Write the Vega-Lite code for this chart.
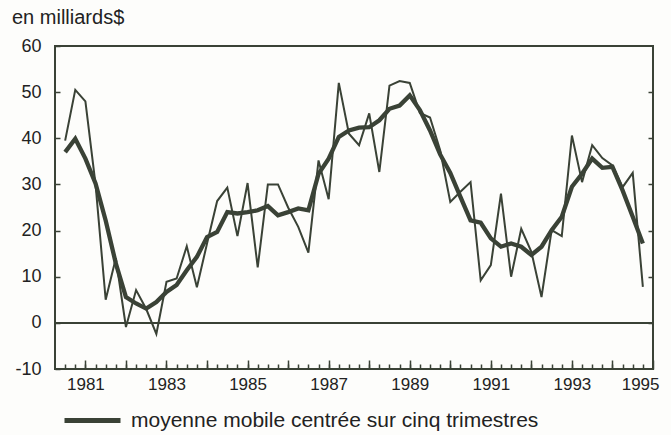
{
  "$schema": "https://vega.github.io/schema/vega-lite/v6.json",
  "width": 598,
  "height": 323,
  "autosize": "none",
  "padding": {"left": 55, "top": 46, "right": 18, "bottom": 66},
  "background": "#fdfdfb",
  "title": {"text": "en milliards$", "anchor": "start", "frame": "group", "dx": -43, "dy": 19, "offset": 12, "baseline": "alphabetic", "fontSize": 20, "fontWeight": "normal", "font": "Liberation Sans", "color": "#222222"},
  "config": {"view": {"stroke": "#3a4236", "strokeWidth": 2}, "font": "Liberation Sans"},
  "data": {"values": [
    {"date": 1980.5, "trimestriel": 39.5, "moyenne": 37.0},
    {"date": 1980.75, "trimestriel": 50.5, "moyenne": 39.9},
    {"date": 1981.0, "trimestriel": 48.0, "moyenne": 35.6},
    {"date": 1981.25, "trimestriel": 30.0, "moyenne": 30.2},
    {"date": 1981.5, "trimestriel": 5.0, "moyenne": 22.2},
    {"date": 1981.75, "trimestriel": 14.0, "moyenne": 12.9},
    {"date": 1982.0, "trimestriel": -0.9, "moyenne": 5.6},
    {"date": 1982.25, "trimestriel": 7.1, "moyenne": 4.2},
    {"date": 1982.5, "trimestriel": 3.0, "moyenne": 3.1},
    {"date": 1982.75, "trimestriel": -2.4, "moyenne": 4.5},
    {"date": 1983.0, "trimestriel": 8.9, "moyenne": 6.7},
    {"date": 1983.25, "trimestriel": 9.6, "moyenne": 8.2},
    {"date": 1983.5, "trimestriel": 16.6, "moyenne": 11.4},
    {"date": 1983.75, "trimestriel": 7.7, "moyenne": 14.3},
    {"date": 1984.0, "trimestriel": 17.2, "moyenne": 18.6},
    {"date": 1984.25, "trimestriel": 26.4, "moyenne": 19.7},
    {"date": 1984.5, "trimestriel": 29.3, "moyenne": 24.0},
    {"date": 1984.75, "trimestriel": 18.8, "moyenne": 23.7},
    {"date": 1985.0, "trimestriel": 30.3, "moyenne": 24.0},
    {"date": 1985.25, "trimestriel": 12.0, "moyenne": 24.4},
    {"date": 1985.5, "trimestriel": 30.0, "moyenne": 25.3},
    {"date": 1985.75, "trimestriel": 30.0, "moyenne": 23.3},
    {"date": 1986.0, "trimestriel": 25.0, "moyenne": 24.0},
    {"date": 1986.25, "trimestriel": 20.8, "moyenne": 24.8},
    {"date": 1986.5, "trimestriel": 15.2, "moyenne": 24.4},
    {"date": 1986.75, "trimestriel": 35.2, "moyenne": 32.3},
    {"date": 1987.0, "trimestriel": 26.8, "moyenne": 35.6},
    {"date": 1987.25, "trimestriel": 52.0, "moyenne": 40.3},
    {"date": 1987.5, "trimestriel": 41.0, "moyenne": 41.7},
    {"date": 1987.75, "trimestriel": 38.5, "moyenne": 42.3},
    {"date": 1988.0, "trimestriel": 45.4, "moyenne": 42.4},
    {"date": 1988.25, "trimestriel": 32.7, "moyenne": 43.9},
    {"date": 1988.5, "trimestriel": 51.4, "moyenne": 46.4},
    {"date": 1988.75, "trimestriel": 52.4, "moyenne": 47.1},
    {"date": 1989.0, "trimestriel": 52.0, "moyenne": 49.3},
    {"date": 1989.25, "trimestriel": 45.5, "moyenne": 46.1},
    {"date": 1989.5, "trimestriel": 44.5, "moyenne": 41.7},
    {"date": 1989.75, "trimestriel": 37.4, "moyenne": 36.5},
    {"date": 1990.0, "trimestriel": 26.2, "moyenne": 32.5},
    {"date": 1990.25, "trimestriel": 28.4, "moyenne": 27.3},
    {"date": 1990.5, "trimestriel": 30.5, "moyenne": 22.2},
    {"date": 1990.75, "trimestriel": 9.2, "moyenne": 21.7},
    {"date": 1991.0, "trimestriel": 12.5, "moyenne": 18.3},
    {"date": 1991.25, "trimestriel": 28.0, "moyenne": 16.5},
    {"date": 1991.5, "trimestriel": 10.0, "moyenne": 17.2},
    {"date": 1991.75, "trimestriel": 20.4, "moyenne": 16.5},
    {"date": 1992.0, "trimestriel": 15.4, "moyenne": 14.7},
    {"date": 1992.25, "trimestriel": 5.6, "moyenne": 16.5},
    {"date": 1992.5, "trimestriel": 20.1, "moyenne": 20.1},
    {"date": 1992.75, "trimestriel": 18.8, "moyenne": 23.0},
    {"date": 1993.0, "trimestriel": 40.6, "moyenne": 29.5},
    {"date": 1993.25, "trimestriel": 30.5, "moyenne": 32.3},
    {"date": 1993.5, "trimestriel": 38.5, "moyenne": 35.6},
    {"date": 1993.75, "trimestriel": 35.7, "moyenne": 33.6},
    {"date": 1994.0, "trimestriel": 34.1, "moyenne": 33.8},
    {"date": 1994.25, "trimestriel": 29.4, "moyenne": 28.7},
    {"date": 1994.5, "trimestriel": 32.5, "moyenne": 23.0},
    {"date": 1994.75, "trimestriel": 7.8, "moyenne": 17.2}
  ]},
  "layer": [
    {
      "mark": {"type": "line", "color": "#3a4236", "strokeWidth": 2},
      "encoding": {
        "x": {"field": "date", "type": "quantitative", "scale": {"domain": [1980.25, 1995], "nice": false, "zero": false},
          "axis": {"orient": "bottom", "values": [1980.5, 1980.75, 1981, 1981.25, 1981.5, 1981.75, 1982, 1982.25, 1982.5, 1982.75, 1983, 1983.25, 1983.5, 1983.75, 1984, 1984.25, 1984.5, 1984.75, 1985, 1985.25, 1985.5, 1985.75, 1986, 1986.25, 1986.5, 1986.75, 1987, 1987.25, 1987.5, 1987.75, 1988, 1988.25, 1988.5, 1988.75, 1989, 1989.25, 1989.5, 1989.75, 1990, 1990.25, 1990.5, 1990.75, 1991, 1991.25, 1991.5, 1991.75, 1992, 1992.25, 1992.5, 1992.75, 1993, 1993.25, 1993.5, 1993.75, 1994, 1994.25, 1994.5, 1994.75],
            "offset": -5, "tickSize": 5, "tickWidth": 1.5, "tickColor": "#3a4236", "domain": false, "labels": false, "grid": false, "title": null}},
        "y": {"field": "trimestriel", "type": "quantitative", "scale": {"domain": [-10, 60], "nice": false, "zero": false},
          "axis": {"orient": "left", "values": [-10, 0, 10, 20, 30, 40, 50, 60], "offset": -5, "tickSize": 5, "tickWidth": 1.5, "tickColor": "#3a4236", "domain": false, "grid": false, "title": null, "labelExpr": "datum.value < 0 ? '-' + abs(datum.value) : '' + datum.value", "labelPadding": 14, "labelFontSize": 18, "labelColor": "#222222", "labelFont": "Liberation Sans"}}
      }
    },
    {
      "mark": {"type": "rule", "color": "#3a4236", "strokeWidth": 1.6},
      "encoding": {"y": {"datum": 0, "type": "quantitative", "axis": null}}
    },
    {
      "mark": {"type": "line", "strokeWidth": 4.3},
      "encoding": {
        "x": {"field": "date", "type": "quantitative",
          "axis": {"orient": "bottom", "values": [1981, 1982, 1983, 1984, 1985, 1986, 1987, 1988, 1989, 1990, 1991, 1992, 1993, 1994, 1995],
            "offset": -9, "tickSize": 9, "tickWidth": 1.5, "tickColor": "#3a4236", "domain": false, "grid": false, "title": null,
            "labelExpr": "datum.value % 2 == 1 ? format(datum.value, 'd') : ''", "labelFlush": true, "labelFlushOffset": 6, "labelPadding": 7, "labelFontSize": 17, "labelColor": "#222222", "labelFont": "Liberation Sans"}},
        "y": {"field": "moyenne", "type": "quantitative",
          "axis": {"orient": "right", "values": [0, 10, 20, 30, 40, 50], "offset": -5, "tickSize": 5, "tickWidth": 1.5, "tickColor": "#3a4236", "domain": false, "labels": false, "grid": false, "title": null}},
        "color": {"datum": "moyenne mobile centrée sur cinq trimestres", "type": "nominal", "scale": {"range": ["#3a4236"]},
          "legend": {"orient": "none", "legendX": 7, "legendY": 344, "title": null, "symbolType": "stroke", "symbolSize": 3136, "symbolStrokeWidth": 5, "labelOffset": 8, "labelFontSize": 21, "labelColor": "#222222", "labelFont": "Liberation Sans", "labelLimit": 600, "padding": 0}}
      }
    }
  ],
  "resolve": {"axis": {"x": "independent", "y": "independent"}}
}
